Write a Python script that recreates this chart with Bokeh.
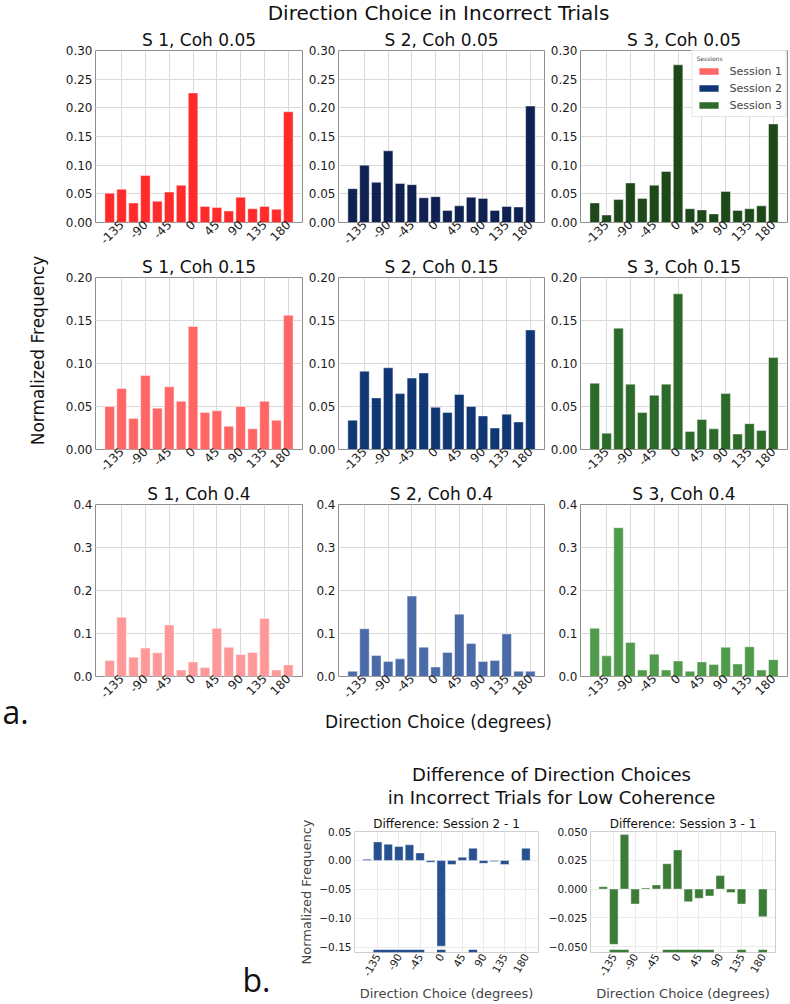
import math

from bokeh.plotting import figure
from bokeh.layouts import row, column
from bokeh.models import (Range1d, FixedTicker, PrintfTickFormatter, CustomJSTickFormatter,
                          ColumnDataSource, Legend, LegendItem, Label)
from bokeh.embed import file_html
from bokeh.resources import INLINE

FONT = "DejaVu Sans"
PANEL_FONT = "Open Sans"

# ---------------------------------------------------------------- data
DIRECTIONS = [-157.5, -135.0, -112.5, -90.0, -67.5, -45.0, -22.5, 0.0,
              22.5, 45.0, 67.5, 90.0, 112.5, 135.0, 157.5, 180.0]
DIRECTION_TICKS = [-135, -90, -45, 0, 45, 90, 135, 180]
SESSIONS = ["Session 1", "Session 2", "Session 3"]
SESSION_SHORT = ["S 1", "S 2", "S 3"]
COHERENCES = ["0.05", "0.15", "0.4"]

# normalized frequency of each chosen direction (incorrect trials)
s1_coh005 = [0.051, 0.058, 0.034, 0.082, 0.037, 0.053, 0.065, 0.226,
             0.028, 0.026, 0.020, 0.044, 0.024, 0.028, 0.023, 0.193]
s2_coh005 = [0.059, 0.100, 0.070, 0.125, 0.068, 0.066, 0.043, 0.045,
             0.021, 0.029, 0.044, 0.042, 0.021, 0.028, 0.027, 0.203]
s3_coh005 = [0.034, 0.013, 0.040, 0.069, 0.042, 0.065, 0.089, 0.275,
             0.024, 0.022, 0.015, 0.054, 0.021, 0.024, 0.029, 0.172]

s1_coh015 = [0.050, 0.071, 0.036, 0.086, 0.048, 0.073, 0.056, 0.143,
             0.043, 0.045, 0.027, 0.050, 0.024, 0.056, 0.034, 0.156]
s2_coh015 = [0.034, 0.091, 0.060, 0.095, 0.065, 0.083, 0.089, 0.049,
             0.043, 0.064, 0.050, 0.039, 0.025, 0.041, 0.032, 0.139]
s3_coh015 = [0.077, 0.019, 0.141, 0.076, 0.043, 0.063, 0.076, 0.181,
             0.021, 0.035, 0.024, 0.065, 0.018, 0.030, 0.022, 0.107]

s1_coh04 = [0.037, 0.138, 0.045, 0.066, 0.055, 0.120, 0.015, 0.034,
            0.021, 0.112, 0.068, 0.051, 0.056, 0.135, 0.015, 0.027]
s2_coh04 = [0.012, 0.111, 0.049, 0.035, 0.041, 0.187, 0.068, 0.022,
            0.056, 0.145, 0.077, 0.035, 0.037, 0.099, 0.012, 0.012]
s3_coh04 = [0.112, 0.048, 0.346, 0.079, 0.015, 0.052, 0.015, 0.036,
            0.012, 0.034, 0.028, 0.068, 0.029, 0.069, 0.015, 0.039]

FREQ_ROWS = [
    [s1_coh005, s2_coh005, s3_coh005],
    [s1_coh015, s2_coh015, s3_coh015],
    [s1_coh04, s2_coh04, s3_coh04],
]

# low-coherence differences between sessions
diff_s2_s1 = [0.002, 0.032, 0.028, 0.024, 0.027, 0.013, -0.003, -0.148,
              -0.007, 0.0055, 0.021, -0.005, -0.002, -0.007, 0.0, 0.021]
diff_s3_s1 = [0.002, -0.048, 0.0475, -0.013, 0.001, 0.0036, 0.022, 0.034,
              -0.011, -0.008, -0.006, 0.0117, -0.003, -0.013, 0.0, -0.024]
# bins flagged along the bottom edge of each difference panel
flag_s2_s1 = [False, True, True, True, True, True, False, True,
              False, False, True, False, False, False, False, False]
flag_s3_s1 = [False, True, True, False, False, False, True, True,
              True, True, True, False, False, True, False, True]

# y axis settings per coherence row
Y_MAX = [0.30, 0.20, 0.4]
Y_TICKS = [
    [0.0, 0.05, 0.10, 0.15, 0.20, 0.25, 0.30],
    [0.0, 0.05, 0.10, 0.15, 0.20],
    [0.0, 0.1, 0.2, 0.3, 0.4],
]
Y_FMT = ["%.2f", "%.2f", "%.1f"]

# ---------------------------------------------------------------- styles
BAR_COLORS = [
    ["#ff2b2b", "#0e2150", "#1d481a"],
    ["#ff6666", "#103674", "#2b6a28"],
    ["#ff9999", "#4b6aa8", "#4f9a4b"],
]
LEGEND_COLORS = ["#ff6666", "#0f3677", "#2e6b2a"]
DIFF_COLORS = ["#26508f", "#3d7b38"]

X_RANGE = (-184.3, 206.8)
BAR_W = 18.0

COL_WIDTHS = [244, 242, 245]
COL_LEFT = [36, 35, 35]
COL_RIGHT = [1, 1, 3]
ROW_H = 227
LEFT_W = 59
XLABEL_H = 40
B_W = 296
MID_H = 65
DIFF_H = 194


def style_axes(p, tick_size, outline, grid):
    p.outline_line_color = outline
    p.outline_line_width = 1
    for ax in list(p.xaxis) + list(p.yaxis):
        ax.axis_line_color = None
        ax.major_tick_line_color = None
        ax.minor_tick_line_color = None
        ax.major_tick_out = 0
        ax.major_tick_in = 0
        ax.minor_tick_out = 0
        ax.minor_tick_in = 0
        ax.major_label_text_font = FONT
        ax.major_label_text_font_size = tick_size
        ax.major_label_text_color = "#1a1a1a"
        ax.major_label_standoff = 3
    p.xgrid.grid_line_color = grid
    p.ygrid.grid_line_color = grid
    p.background_fill_color = "white"
    p.border_fill_color = "white"


def style_title(p, size, standoff):
    p.title.align = "center"
    p.title.text_font = FONT
    p.title.text_font_style = "normal"
    p.title.text_font_size = size
    p.title.text_color = "#111111"
    p.title.standoff = standoff
    p.title.offset = 0


def panel(r, c):
    p = figure(width=COL_WIDTHS[c], height=ROW_H,
               x_range=Range1d(*X_RANGE), y_range=Range1d(0, Y_MAX[r]),
               output_backend="svg", toolbar_location=None,
               min_border_left=COL_LEFT[c], min_border_right=COL_RIGHT[c],
               min_border_top=26, min_border_bottom=28,
               title=f"{SESSION_SHORT[c]}, Coh {COHERENCES[r]}")
    style_title(p, "17px", 2)
    src = ColumnDataSource(dict(x=DIRECTIONS, top=FREQ_ROWS[r][c]))
    p.vbar(x="x", top="top", width=BAR_W, source=src,
           fill_color=BAR_COLORS[r][c], line_color="white", line_width=0.6, line_alpha=0.7)
    p.xaxis.ticker = FixedTicker(ticks=DIRECTION_TICKS)
    p.xaxis.formatter = CustomJSTickFormatter(code="return tick.toFixed(0);")
    p.xaxis.major_label_orientation = math.pi / 4
    p.yaxis.ticker = FixedTicker(ticks=Y_TICKS[r])
    p.yaxis.formatter = PrintfTickFormatter(format=Y_FMT[r])
    style_axes(p, "12px", "#8e8e8e", "#dadada")
    p.xaxis.major_label_standoff = 0

    if r == 0 and c == 2:
        # legend swatches: zero-height bars carrying each session's colour
        items = []
        for name, col in zip(SESSIONS, LEGEND_COLORS):
            rr = p.vbar(x=DIRECTIONS[:1], top=0, bottom=0, width=BAR_W,
                        fill_color=col, line_color=None)
            items.append(LegendItem(label=name, renderers=[rr]))
        leg = Legend(items=items, location="top_right", title="Sessions",
                     title_text_font=FONT, title_text_font_size="6px",
                     title_text_font_style="normal", title_standoff=2,
                     label_text_font=FONT, label_text_font_size="11px",
                     glyph_width=24, glyph_height=8, label_height=14,
                     spacing=3, padding=4, margin=0, label_standoff=9,
                     border_line_color="#cccccc", background_fill_alpha=0.9)
        p.add_layout(leg)
    return p


def canvas(w, h):
    c = figure(width=w, height=h, x_range=Range1d(0, w), y_range=Range1d(h, 0),
               x_axis_type=None, y_axis_type=None,
               output_backend="svg", toolbar_location=None, min_border=0)
    c.grid.visible = False
    c.outline_line_color = None
    return c


def put_text(c, x, y, text, size, font=FONT, align="center", angle=0.0):
    c.add_layout(Label(x=x, y=y, text=text, text_font=font, text_font_size=size,
                       text_align=align, text_baseline="middle", angle=angle,
                       text_color="#111111"))


def diff_panel(vals, flags, color, y_lo, y_hi, ticks, decimals, title,
               width, left, right, ylabel):
    p = figure(width=width, height=DIFF_H,
               x_range=Range1d(*X_RANGE), y_range=Range1d(y_lo, y_hi),
               output_backend="svg", toolbar_location=None,
               min_border_left=left, min_border_right=right,
               min_border_top=21, min_border_bottom=46, title=title)
    style_title(p, "12px", 1)
    src = ColumnDataSource(dict(x=DIRECTIONS, top=vals))
    p.vbar(x="x", top="top", bottom=0, width=BAR_W, source=src,
           fill_color=color, line_color="white", line_width=0.6, line_alpha=0.7)

    # contiguous runs of flagged bins drawn as a strip along the bottom edge
    lefts, rights = [], []
    i = 0
    while i < len(flags):
        if flags[i]:
            j = i
            while j + 1 < len(flags) and flags[j + 1]:
                j += 1
            lefts.append(DIRECTIONS[i] - BAR_W / 2)
            rights.append(DIRECTIONS[j] + BAR_W / 2)
            i = j + 1
        else:
            i += 1
    strip = (y_hi - y_lo) * 3.0 / 127.0
    p.quad(left=lefts, right=rights, bottom=[y_lo] * len(lefts),
           top=[y_lo + strip] * len(lefts), fill_color=color, line_color=None)

    p.xaxis.ticker = FixedTicker(ticks=DIRECTION_TICKS)
    p.xaxis.formatter = CustomJSTickFormatter(code="return tick.toFixed(0);")
    p.xaxis.major_label_orientation = math.pi / 3
    p.yaxis.ticker = FixedTicker(ticks=ticks)
    p.yaxis.formatter = CustomJSTickFormatter(
        code=f"return tick.toFixed({decimals}).replace('-', '\u2212');")
    style_axes(p, "10.5px", "#cfcfcf", "#ebebeb")
    p.xaxis.major_label_standoff = 2
    p.yaxis.major_label_standoff = 3
    p.xaxis.axis_label = "Direction Choice (degrees)"
    p.xaxis.axis_label_text_font = FONT
    p.xaxis.axis_label_text_font_size = "13px"
    p.xaxis.axis_label_text_font_style = "normal"
    p.xaxis.axis_label_standoff = 4
    if ylabel:
        p.yaxis.axis_label = ylabel
        p.yaxis.axis_label_text_font = FONT
        p.yaxis.axis_label_text_font_size = "13px"
        p.yaxis.axis_label_text_font_style = "normal"
        p.yaxis.axis_label_standoff = 2
    return p


# ---------------------------------------------------------------- layout
header = canvas(790, 24)
put_text(header, 438, 12, "Direction Choice in Incorrect Trials", "20px")

side_h = 3 * ROW_H + XLABEL_H
side = canvas(LEFT_W, side_h)
put_text(side, 37, 326, "Normalized Frequency", "17px", angle=math.pi / 2)
put_text(side, 2, 687, "a.", "32px", font=PANEL_FONT, align="left")

grid_rows = [row(*[panel(r, c) for c in range(3)]) for r in range(3)]
xlabel = canvas(sum(COL_WIDTHS), XLABEL_H)
put_text(xlabel, 438 - LEFT_W, 16, "Direction Choice (degrees)", "17px")
grid = column(*grid_rows, xlabel)

b_canvas = canvas(B_W, MID_H + DIFF_H)
put_text(b_canvas, 242, 234, "b.", "32px", font=PANEL_FONT, align="left")

middle = canvas(790 - B_W, MID_H)
put_text(middle, 551 - B_W, 29, "Difference of Direction Choices", "18px")
put_text(middle, 551 - B_W, 52, "in Incorrect Trials for Low Coherence", "18px")

diff_left = diff_panel(diff_s2_s1, flag_s2_s1, DIFF_COLORS[0], -0.159, 0.05,
                       [-0.15, -0.10, -0.05, 0.0, 0.05], 2,
                       "Difference: Session 2 - 1", 249, 53, 7, "Normalized Frequency")
diff_right = diff_panel(diff_s3_s1, flag_s3_s1, DIFF_COLORS[1], -0.0551, 0.05,
                        [-0.050, -0.025, 0.0, 0.025, 0.050], 3,
                        "Difference: Session 3 - 1", 245, 43, 15, None)

bottom = row(b_canvas, column(middle, row(diff_left, diff_right)))
layout = column(header, row(side, grid), bottom)

open("out.html", "w").write(file_html(layout, INLINE))
